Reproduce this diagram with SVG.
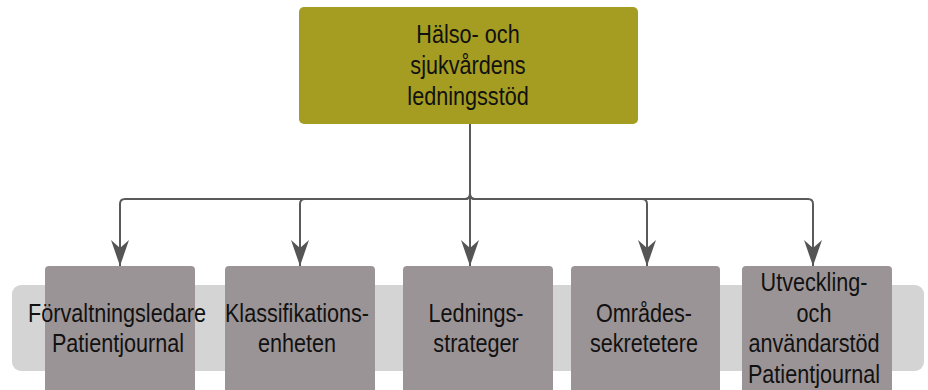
<svg xmlns="http://www.w3.org/2000/svg" width="928" height="390" viewBox="0 0 928 390">
<style>
.t{font-family:"Liberation Sans",Arial,sans-serif;font-size:25px;fill:#111;text-anchor:middle}
.box{fill:#9b9496}
.top{fill:#a49d22}
.c{fill:none;stroke:#5a5a5a;stroke-width:2}
</style>
<defs>
<marker id="ah" markerUnits="userSpaceOnUse" markerWidth="30" markerHeight="22" viewBox="-27 -11 28 22" refX="0" refY="0" orient="auto">
<path d="M0,0 L-26,-9 L-18,0 L-26,9 Z" fill="#555"/>
</marker>
</defs>
<rect id="band" x="12" y="285" width="912" height="86" rx="9" fill="#d4d4d4"/>
<g id="connectors">
<path class="c" d="M470,124 V194 Q470,199 465,199 H125 Q120,199 120,204 V266" marker-end="url(#ah)"/>
<path class="c" d="M470,194 Q470,199 465,199 H305 Q300,199 300,204 V266" marker-end="url(#ah)"/>
<path class="c" d="M470,124 V266" marker-end="url(#ah)"/>
<path class="c" d="M470,194 Q470,199 475,199 H642 Q647,199 647,204 V266" marker-end="url(#ah)"/>
<path class="c" d="M470,194 Q470,199 475,199 H808 Q813,199 813,204 V266" marker-end="url(#ah)"/>
</g>
<g id="n0">
<rect class="top" x="299" y="7" width="339" height="117" rx="5"/>
<text class="t" transform="translate(468,43) scale(0.865,1)">Hälso- och</text>
<text class="t" transform="translate(468,74) scale(0.865,1)">sjukvårdens</text>
<text class="t" transform="translate(468,105) scale(0.865,1)">ledningsstöd</text>
</g>
<g id="n1">
<rect class="box" x="45" y="266" width="150" height="140" rx="4"/>
<text class="t" transform="translate(117,322) scale(0.865,1)">Förvaltningsledare</text>
<text class="t" transform="translate(118,352) scale(0.865,1)">Patientjournal</text>
</g>
<g id="n2">
<rect class="box" x="225" y="266" width="150" height="140" rx="4"/>
<text class="t" transform="translate(297,322) scale(0.865,1)">Klassifikations-</text>
<text class="t" transform="translate(297,352) scale(0.865,1)">enheten</text>
</g>
<g id="n3">
<rect class="box" x="403" y="266" width="150" height="140" rx="4"/>
<text class="t" transform="translate(476,322) scale(0.865,1)">Lednings-</text>
<text class="t" transform="translate(476,352) scale(0.865,1)">strateger</text>
</g>
<g id="n4">
<rect class="box" x="571" y="266" width="149" height="140" rx="4"/>
<text class="t" transform="translate(644,322) scale(0.865,1)">Områdes-</text>
<text class="t" transform="translate(644,352) scale(0.865,1)">sekretetere</text>
</g>
<g id="n5">
<rect class="box" x="742" y="266" width="150" height="140" rx="4"/>
<text class="t" transform="translate(814,291) scale(0.865,1)">Utveckling-</text>
<text class="t" transform="translate(814,322) scale(0.865,1)">och</text>
<text class="t" transform="translate(814,352) scale(0.865,1)">användarstöd</text>
<text class="t" transform="translate(814,383) scale(0.865,1)">Patientjournal</text>
</g>
</svg>
